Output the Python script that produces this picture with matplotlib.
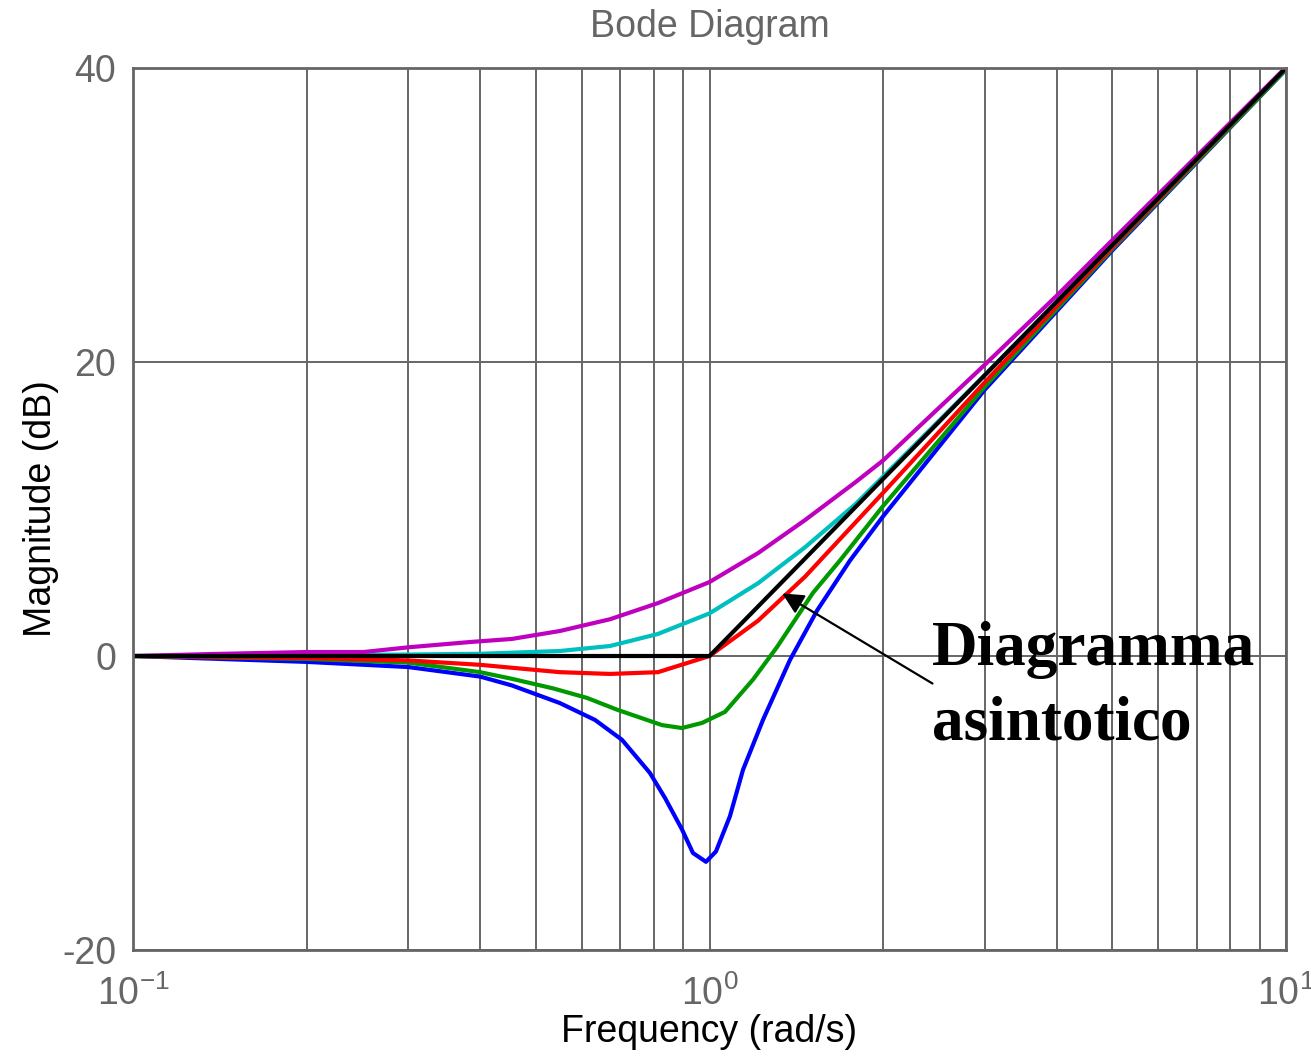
import matplotlib
matplotlib.use('Agg')
from matplotlib import pyplot as plt

plt.rcParams['font.family'] = ['Liberation Sans', 'DejaVu Sans']
plt.rcParams['mathtext.fontset'] = 'custom'
plt.rcParams['mathtext.rm'] = 'Liberation Sans'
plt.rcParams['axes.unicode_minus'] = False

# readings from the picture: frequency (rad/s) and magnitude (dB)
f_blue = [0.1, 0.2, 0.3, 0.4, 0.454, 0.55, 0.633, 0.705, 0.788, 0.837, 0.896,
          0.936, 0.986, 1.026, 1.085, 1.143, 1.238, 1.379, 1.537, 1.753, 2.0,
          3.0, 5.0, 10.0]
db_blue = [0.0, -0.4, -0.75, -1.4, -2.0, -3.2, -4.35, -5.7, -7.95, -9.65, -11.8,
           -13.4, -14.0, -13.3, -10.9, -7.75, -4.35, -0.27, 3.1, 6.5, 9.5,
           18.1, 27.6, 39.9]

f_green = [0.1, 0.2, 0.3, 0.4, 0.454, 0.535, 0.613, 0.691, 0.827, 0.896, 0.971,
           1.064, 1.19, 1.309, 1.512, 1.684, 2.0, 3.0, 5.0, 10.0]
db_green = [0.0, -0.2, -0.45, -1.1, -1.55, -2.2, -2.85, -3.65, -4.7, -4.9, -4.55,
            -3.8, -1.6, 0.6, 4.3, 6.5, 10.2, 18.3, 27.7, 39.9]

f_red = [0.1, 0.2, 0.3, 0.4, 0.55, 0.672, 0.814, 1.0, 1.214, 1.465, 1.788,
         2.0, 3.0, 5.0, 10.0]
db_red = [0.0, -0.14, -0.3, -0.6, -1.1, -1.22, -1.1, 0.0, 2.4, 5.4, 9.05,
          11.1, 18.6, 27.8, 40.0]

f_cyan = [0.1, 0.2, 0.3, 0.4, 0.55, 0.672, 0.814, 1.0, 1.214, 1.465, 1.788,
          2.0, 3.0, 5.0, 10.0]
db_cyan = [0.0, 0.05, 0.1, 0.15, 0.34, 0.68, 1.5, 2.9, 4.95, 7.4, 10.3,
           12.2, 19.1, 27.95, 40.0]

f_mag = [0.1, 0.139, 0.2, 0.251, 0.302, 0.384, 0.454, 0.55, 0.672, 0.814, 1.0,
         1.214, 1.465, 1.788, 2.0, 3.0, 4.0, 5.0, 10.0]
db_mag = [0.0, 0.14, 0.27, 0.27, 0.6, 0.95, 1.16, 1.7, 2.5, 3.6, 5.03,
          7.0, 9.25, 11.8, 13.3, 19.8, 24.5, 28.3, 40.05]

f_asy = [0.1, 1.0, 10.0]
db_asy = [0.0, 0.0, 40.0]

gray = '#666666'

fig = plt.figure(figsize=(13.11, 10.58), dpi=100)
ax = fig.add_axes([133/1311, 108/1058, 1153/1311, 882/1058])

ax.plot(f_blue, db_blue, color='#0000ff', lw=3)
ax.plot(f_green, db_green, color='#009900', lw=3)
ax.plot(f_red, db_red, color='#ff0000', lw=3)
ax.plot(f_cyan, db_cyan, color='#00bfbf', lw=3)
ax.plot(f_mag, db_mag, color='#bf00bf', lw=3)
ax.plot(f_asy, db_asy, color='k', lw=3)

ax.set_xscale('log')
ax.set_xlim(0.1, 10)
ax.set_ylim(-20, 40)
ax.set_yticks([-20, 0, 20, 40])
ax.grid(True, which='both', axis='x', color=gray, lw=1.4)
ax.grid(True, which='major', axis='y', color=gray, lw=1.4)
ax.set_axisbelow(True)
ax.tick_params(which='both', length=0, labelsize=27, labelcolor=gray)
ax.tick_params(axis='x', pad=18)
ax.tick_params(axis='y', pad=12)
for s in ax.spines.values():
    s.set_color(gray)
    s.set_linewidth(2)

ax.set_title('Bode Diagram', fontsize=27, color=gray, pad=22)
ax.set_xlabel('Frequency (rad/s)', fontsize=27, labelpad=1)
ax.set_ylabel('Magnitude (dB)', fontsize=27, labelpad=2)

ax.annotate('', xy=(1.325, 4.35), xytext=(2.46, -1.97),
            arrowprops=dict(arrowstyle='-|>', color='k', lw=1.6, mutation_scale=32))
ax.text(2.43, -0.61, 'Diagramma', family='Liberation Serif', weight='bold',
        fontsize=45.5, va='baseline', ha='left')
ax.text(2.43, -5.71, 'asintotico', family='Liberation Serif', weight='bold',
        fontsize=45.5, va='baseline', ha='left')

fig.savefig('out.png', dpi=100)
